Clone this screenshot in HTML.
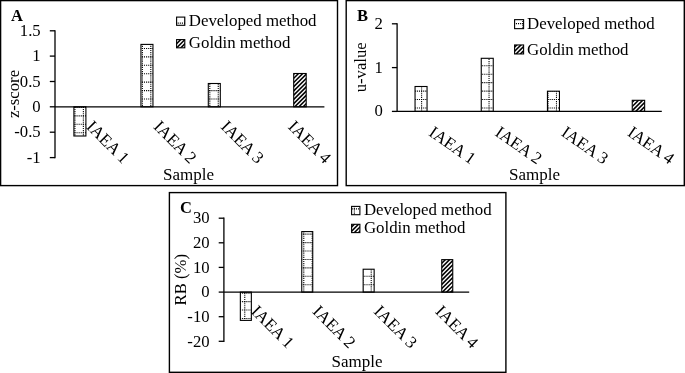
<!DOCTYPE html>
<html><head><meta charset="utf-8"><title>Figure</title>
<style>
html,body{margin:0;padding:0;background:#fff;}
body{width:685px;height:373px;overflow:hidden;font-family:"Liberation Serif",serif;}
svg{display:block;will-change:transform;}
text{fill:#000;}
</style></head><body>
<svg width="685" height="373" viewBox="0 0 685 373">
<rect width="685" height="373" fill="#fff"/>

<g id="panelA">
<rect x="0.6" y="0.6" width="336.9" height="185.0" fill="#fff" stroke="#000" stroke-width="1.4"/>
<clipPath id="c1"><rect x="73.9" y="106.8" width="12.0" height="29.2"/></clipPath><rect x="73.9" y="106.8" width="12.0" height="29.2" fill="#fff"/><g clip-path="url(#c1)" stroke="#000" stroke-width="1.1" stroke-dasharray="1.1 1.007" fill="none"><path d="M66.51 98.48V137.0"/><path d="M74.94 98.48V137.0"/><path d="M83.37 98.48V137.0"/><path d="M65.96 99.03H86.9"/><path d="M65.96 107.46H86.9"/><path d="M65.96 115.89H86.9"/><path d="M65.96 124.32H86.9"/><path d="M65.96 132.75H86.9"/></g><rect x="73.9" y="106.8" width="12.0" height="29.2" fill="none" stroke="#000" stroke-width="1.1"/>
<clipPath id="c2"><rect x="140.95" y="44.4" width="12.0" height="62.4"/></clipPath><rect x="140.95" y="44.4" width="12.0" height="62.4" fill="#fff"/><g clip-path="url(#c2)" stroke="#000" stroke-width="1.1" stroke-dasharray="1.1 1.007" fill="none"><path d="M133.95 39.47V107.8"/><path d="M142.38 39.47V107.8"/><path d="M150.81 39.47V107.8"/><path d="M133.4 40.02H153.95"/><path d="M133.4 48.45H153.95"/><path d="M133.4 56.88H153.95"/><path d="M133.4 65.31H153.95"/><path d="M133.4 73.74H153.95"/><path d="M133.4 82.17H153.95"/><path d="M133.4 90.6H153.95"/><path d="M133.4 99.03H153.95"/><path d="M133.4 107.46H153.95"/></g><rect x="140.95" y="44.4" width="12.0" height="62.4" fill="none" stroke="#000" stroke-width="1.1"/>
<clipPath id="c3"><rect x="208.3" y="83.5" width="12.0" height="23.3"/></clipPath><rect x="208.3" y="83.5" width="12.0" height="23.3" fill="#fff"/><g clip-path="url(#c3)" stroke="#000" stroke-width="1.1" stroke-dasharray="1.1 1.007" fill="none"><path d="M201.39 81.62V107.8"/><path d="M209.82 81.62V107.8"/><path d="M218.25 81.62V107.8"/><path d="M200.84 82.17H221.3"/><path d="M200.84 90.6H221.3"/><path d="M200.84 99.03H221.3"/><path d="M200.84 107.46H221.3"/></g><rect x="208.3" y="83.5" width="12.0" height="23.3" fill="none" stroke="#000" stroke-width="1.1"/>
<clipPath id="c4"><rect x="293.7" y="73.5" width="12.5" height="33.3"/></clipPath><rect x="293.7" y="73.5" width="12.5" height="33.3" fill="#fff"/><g clip-path="url(#c4)" stroke="#000" stroke-width="1.55" fill="none"><path d="M292.7 70.89L307.2 56.39"/><path d="M292.7 75.11L307.2 60.61"/><path d="M292.7 79.32L307.2 64.82"/><path d="M292.7 83.54L307.2 69.04"/><path d="M292.7 87.75L307.2 73.25"/><path d="M292.7 91.97L307.2 77.47"/><path d="M292.7 96.18L307.2 81.68"/><path d="M292.7 100.4L307.2 85.9"/><path d="M292.7 104.61L307.2 90.11"/><path d="M292.7 108.83L307.2 94.33"/><path d="M292.7 113.04L307.2 98.54"/><path d="M292.7 117.25L307.2 102.75"/></g><rect x="293.7" y="73.5" width="12.5" height="33.3" fill="none" stroke="#000" stroke-width="1.1"/>
<path d="M55 30.15V158.25" stroke="#000" stroke-width="1.3" fill="none"/>
<path d="M55 106.8H324.4" stroke="#000" stroke-width="1.3" fill="none"/>
<path d="M49.8 30.8H55" stroke="#000" stroke-width="1.3"/>
<text x="40.7" y="36.0" text-anchor="end" font-family="Liberation Serif, serif" font-size="16.7">1.5</text>
<path d="M49.8 56.1H55" stroke="#000" stroke-width="1.3"/>
<text x="40.7" y="61.3" text-anchor="end" font-family="Liberation Serif, serif" font-size="16.7">1</text>
<path d="M49.8 81.5H55" stroke="#000" stroke-width="1.3"/>
<text x="40.7" y="86.7" text-anchor="end" font-family="Liberation Serif, serif" font-size="16.7">0.5</text>
<path d="M49.8 106.8H55" stroke="#000" stroke-width="1.3"/>
<text x="40.7" y="112.0" text-anchor="end" font-family="Liberation Serif, serif" font-size="16.7">0</text>
<path d="M49.8 132.2H55" stroke="#000" stroke-width="1.3"/>
<text x="40.7" y="137.4" text-anchor="end" font-family="Liberation Serif, serif" font-size="16.7">-0.5</text>
<path d="M49.8 157.6H55" stroke="#000" stroke-width="1.3"/>
<text x="40.7" y="162.8" text-anchor="end" font-family="Liberation Serif, serif" font-size="16.7">-1</text>
<text transform="translate(85.4 127.5) rotate(45)" font-family="Liberation Serif, serif" font-size="17">IAEA 1</text>
<text transform="translate(152.7 127.5) rotate(45)" font-family="Liberation Serif, serif" font-size="17">IAEA 2</text>
<text transform="translate(220.0 127.5) rotate(45)" font-family="Liberation Serif, serif" font-size="17">IAEA 3</text>
<text transform="translate(287.3 127.5) rotate(45)" font-family="Liberation Serif, serif" font-size="17">IAEA 4</text>
<text x="188.6" y="179.6" text-anchor="middle" font-family="Liberation Serif, serif" font-size="17">Sample</text>
<text transform="translate(18.5 94) rotate(-90)" text-anchor="middle" font-family="Liberation Serif, serif" font-size="16.7">z-score</text>
<text x="11" y="21.4" font-family="Liberation Serif, serif" font-weight="bold" font-size="16.5">A</text>
<clipPath id="c5"><rect x="176.6" y="17.1" width="8.2" height="8.2"/></clipPath><rect x="176.6" y="17.1" width="8.2" height="8.2" fill="#fff"/><g clip-path="url(#c5)" stroke="#000" stroke-width="1.1" stroke-dasharray="1.1 1.007" fill="none"><path d="M176.1 14.18V26.3"/><path d="M184.53 14.18V26.3"/><path d="M175.55 14.73H185.8"/><path d="M175.55 23.16H185.8"/></g><rect x="176.6" y="17.1" width="8.2" height="8.2" fill="none" stroke="#000" stroke-width="1.1"/>
<text x="188.8" y="25.5" font-family="Liberation Serif, serif" font-size="16.85">Developed method</text>
<clipPath id="c6"><rect x="176.6" y="39.6" width="8.2" height="8.2"/></clipPath><rect x="176.6" y="39.6" width="8.2" height="8.2" fill="#fff"/><g clip-path="url(#c6)" stroke="#000" stroke-width="1.55" fill="none"><path d="M175.6 40.47L185.8 30.27"/><path d="M175.6 44.68L185.8 34.48"/><path d="M175.6 48.89L185.8 38.69"/><path d="M175.6 53.11L185.8 42.91"/><path d="M175.6 57.32L185.8 47.12"/></g><rect x="176.6" y="39.6" width="8.2" height="8.2" fill="none" stroke="#000" stroke-width="1.1"/>
<text x="188.8" y="48" font-family="Liberation Serif, serif" font-size="16.85">Goldin method</text>
</g>
<g id="panelB">
<rect x="346.2" y="0.6" width="338.1" height="185.0" fill="#fff" stroke="#000" stroke-width="1.4"/>
<clipPath id="c7"><rect x="415.05" y="86.5" width="12.0" height="24.9"/></clipPath><rect x="415.05" y="86.5" width="12.0" height="24.9" fill="#fff"/><g clip-path="url(#c7)" stroke="#000" stroke-width="1.1" stroke-dasharray="1.1 1.007" fill="none"><path d="M413.17 82.12V112.4"/><path d="M421.6 82.12V112.4"/><path d="M412.62 82.67H428.05"/><path d="M412.62 91.1H428.05"/><path d="M412.62 99.53H428.05"/><path d="M412.62 107.96H428.05"/></g><rect x="415.05" y="86.5" width="12.0" height="24.9" fill="none" stroke="#000" stroke-width="1.1"/>
<clipPath id="c8"><rect x="481.25" y="58.3" width="12.0" height="53.1"/></clipPath><rect x="481.25" y="58.3" width="12.0" height="53.1" fill="#fff"/><g clip-path="url(#c8)" stroke="#000" stroke-width="1.1" stroke-dasharray="1.1 1.007" fill="none"><path d="M480.61 56.83V112.4"/><path d="M489.04 56.83V112.4"/><path d="M480.06 57.38H494.25"/><path d="M480.06 65.81H494.25"/><path d="M480.06 74.24H494.25"/><path d="M480.06 82.67H494.25"/><path d="M480.06 91.1H494.25"/><path d="M480.06 99.53H494.25"/><path d="M480.06 107.96H494.25"/></g><rect x="481.25" y="58.3" width="12.0" height="53.1" fill="none" stroke="#000" stroke-width="1.1"/>
<clipPath id="c9"><rect x="547.45" y="91.2" width="12.0" height="20.2"/></clipPath><rect x="547.45" y="91.2" width="12.0" height="20.2" fill="#fff"/><g clip-path="url(#c9)" stroke="#000" stroke-width="1.1" stroke-dasharray="1.1 1.007" fill="none"><path d="M539.62 90.55V112.4"/><path d="M548.05 90.55V112.4"/><path d="M556.48 90.55V112.4"/><path d="M539.07 91.1H560.45"/><path d="M539.07 99.53H560.45"/><path d="M539.07 107.96H560.45"/></g><rect x="547.45" y="91.2" width="12.0" height="20.2" fill="none" stroke="#000" stroke-width="1.1"/>
<clipPath id="c10"><rect x="632.25" y="100.3" width="12.4" height="11.1"/></clipPath><rect x="632.25" y="100.3" width="12.4" height="11.1" fill="#fff"/><g clip-path="url(#c10)" stroke="#000" stroke-width="1.55" fill="none"><path d="M631.25 99.04L645.65 84.64"/><path d="M631.25 103.26L645.65 88.86"/><path d="M631.25 107.48L645.65 93.08"/><path d="M631.25 111.69L645.65 97.29"/><path d="M631.25 115.9L645.65 101.5"/><path d="M631.25 120.12L645.65 105.72"/><path d="M631.25 124.34L645.65 109.94"/></g><rect x="632.25" y="100.3" width="12.4" height="11.1" fill="none" stroke="#000" stroke-width="1.1"/>
<path d="M397.1 23.15V112.05" stroke="#000" stroke-width="1.3" fill="none"/>
<path d="M397.1 111.4H661.8" stroke="#000" stroke-width="1.3" fill="none"/>
<path d="M391.90000000000003 23.8H397.1" stroke="#000" stroke-width="1.3"/>
<text x="382.8" y="28.7" text-anchor="end" font-family="Liberation Serif, serif" font-size="16.7">2</text>
<path d="M391.90000000000003 67.6H397.1" stroke="#000" stroke-width="1.3"/>
<text x="382.8" y="72.5" text-anchor="end" font-family="Liberation Serif, serif" font-size="16.7">1</text>
<path d="M391.90000000000003 111.4H397.1" stroke="#000" stroke-width="1.3"/>
<text x="382.8" y="116.3" text-anchor="end" font-family="Liberation Serif, serif" font-size="16.7">0</text>
<text transform="translate(427.8 134.8) rotate(35)" font-family="Liberation Serif, serif" font-size="17">IAEA 1</text>
<text transform="translate(494.0 134.8) rotate(35)" font-family="Liberation Serif, serif" font-size="17">IAEA 2</text>
<text transform="translate(560.2 134.8) rotate(35)" font-family="Liberation Serif, serif" font-size="17">IAEA 3</text>
<text transform="translate(626.4 134.8) rotate(35)" font-family="Liberation Serif, serif" font-size="17">IAEA 4</text>
<text x="534.6" y="180" text-anchor="middle" font-family="Liberation Serif, serif" font-size="17">Sample</text>
<text transform="translate(366.3 67.3) rotate(-90)" text-anchor="middle" font-family="Liberation Serif, serif" font-size="16.7">u-value</text>
<text x="357" y="21.1" font-family="Liberation Serif, serif" font-weight="bold" font-size="16.5">B</text>
<clipPath id="c11"><rect x="514.6" y="19.65" width="9.0" height="9.0"/></clipPath><rect x="514.6" y="19.65" width="9.0" height="9.0" fill="#fff"/><g clip-path="url(#c11)" stroke="#000" stroke-width="1.1" stroke-dasharray="1.1 1.007" fill="none"><path d="M514.33 14.68V29.65"/><path d="M522.76 14.68V29.65"/><path d="M513.78 15.23H524.6"/><path d="M513.78 23.66H524.6"/></g><rect x="514.6" y="19.65" width="9.0" height="9.0" fill="none" stroke="#000" stroke-width="1.1"/>
<text x="527.0" y="29.3" font-family="Liberation Serif, serif" font-size="16.85">Developed method</text>
<clipPath id="c12"><rect x="514.6" y="44.95" width="9.0" height="9.0"/></clipPath><rect x="514.6" y="44.95" width="9.0" height="9.0" fill="#fff"/><g clip-path="url(#c12)" stroke="#000" stroke-width="1.55" fill="none"><path d="M513.6 43.88L524.6 32.88"/><path d="M513.6 48.1L524.6 37.1"/><path d="M513.6 52.31L524.6 41.31"/><path d="M513.6 56.52L524.6 45.52"/><path d="M513.6 60.74L524.6 49.74"/></g><rect x="514.6" y="44.95" width="9.0" height="9.0" fill="none" stroke="#000" stroke-width="1.1"/>
<text x="527.0" y="54.6" font-family="Liberation Serif, serif" font-size="16.85">Goldin method</text>
</g>
<g id="panelC">
<rect x="169.4" y="192.6" width="336.5" height="179.7" fill="#fff" stroke="#000" stroke-width="1.4"/>
<clipPath id="c13"><rect x="240.35" y="292.1" width="11.0" height="28.29"/></clipPath><rect x="240.35" y="292.1" width="11.0" height="28.29" fill="#fff"/><g clip-path="url(#c13)" stroke="#000" stroke-width="1.1" stroke-dasharray="1.1 1.007" fill="none"><path d="M236.34 284.19V321.39"/><path d="M244.77 284.19V321.39"/><path d="M235.79 284.74H252.35"/><path d="M235.79 293.17H252.35"/><path d="M235.79 301.6H252.35"/><path d="M235.79 310.03H252.35"/><path d="M235.79 318.46H252.35"/></g><rect x="240.35" y="292.1" width="11.0" height="28.29" fill="none" stroke="#000" stroke-width="1.1"/>
<clipPath id="c14"><rect x="301.75" y="231.58" width="11.0" height="60.52"/></clipPath><rect x="301.75" y="231.58" width="11.0" height="60.52" fill="#fff"/><g clip-path="url(#c14)" stroke="#000" stroke-width="1.1" stroke-dasharray="1.1 1.007" fill="none"><path d="M295.35 225.18V293.1"/><path d="M303.78 225.18V293.1"/><path d="M312.21 225.18V293.1"/><path d="M294.8 225.73H313.75"/><path d="M294.8 234.16H313.75"/><path d="M294.8 242.59H313.75"/><path d="M294.8 251.02H313.75"/><path d="M294.8 259.45H313.75"/><path d="M294.8 267.88H313.75"/><path d="M294.8 276.31H313.75"/><path d="M294.8 284.74H313.75"/></g><rect x="301.75" y="231.58" width="11.0" height="60.52" fill="none" stroke="#000" stroke-width="1.1"/>
<clipPath id="c15"><rect x="363.15" y="269.22" width="11.0" height="22.88"/></clipPath><rect x="363.15" y="269.22" width="11.0" height="22.88" fill="#fff"/><g clip-path="url(#c15)" stroke="#000" stroke-width="1.1" stroke-dasharray="1.1 1.007" fill="none"><path d="M362.79 267.33V293.1"/><path d="M371.22 267.33V293.1"/><path d="M362.24 267.88H375.15"/><path d="M362.24 276.31H375.15"/><path d="M362.24 284.74H375.15"/></g><rect x="363.15" y="269.22" width="11.0" height="22.88" fill="none" stroke="#000" stroke-width="1.1"/>
<clipPath id="c16"><rect x="441.75" y="259.63" width="11.0" height="32.47"/></clipPath><rect x="441.75" y="259.63" width="11.0" height="32.47" fill="#fff"/><g clip-path="url(#c16)" stroke="#000" stroke-width="1.55" fill="none"><path d="M440.75 260.04L453.75 247.04"/><path d="M440.75 264.25L453.75 251.25"/><path d="M440.75 268.47L453.75 255.47"/><path d="M440.75 272.68L453.75 259.68"/><path d="M440.75 276.9L453.75 263.9"/><path d="M440.75 281.12L453.75 268.12"/><path d="M440.75 285.33L453.75 272.33"/><path d="M440.75 289.54L453.75 276.54"/><path d="M440.75 293.76L453.75 280.76"/><path d="M440.75 297.98L453.75 284.98"/><path d="M440.75 302.19L453.75 289.19"/></g><rect x="441.75" y="259.63" width="11.0" height="32.47" fill="none" stroke="#000" stroke-width="1.1"/>
<path d="M223.9 217.55V341.95" stroke="#000" stroke-width="1.3" fill="none"/>
<path d="M223.9 292.1H469.2" stroke="#000" stroke-width="1.3" fill="none"/>
<path d="M218.70000000000002 218.2H223.9" stroke="#000" stroke-width="1.3"/>
<text x="209.6" y="223.4" text-anchor="end" font-family="Liberation Serif, serif" font-size="16.7">30</text>
<path d="M218.70000000000002 242.8H223.9" stroke="#000" stroke-width="1.3"/>
<text x="209.6" y="248.0" text-anchor="end" font-family="Liberation Serif, serif" font-size="16.7">20</text>
<path d="M218.70000000000002 267.4H223.9" stroke="#000" stroke-width="1.3"/>
<text x="209.6" y="272.6" text-anchor="end" font-family="Liberation Serif, serif" font-size="16.7">10</text>
<path d="M218.70000000000002 292.1H223.9" stroke="#000" stroke-width="1.3"/>
<text x="209.6" y="297.3" text-anchor="end" font-family="Liberation Serif, serif" font-size="16.7">0</text>
<path d="M218.70000000000002 316.7H223.9" stroke="#000" stroke-width="1.3"/>
<text x="209.6" y="321.9" text-anchor="end" font-family="Liberation Serif, serif" font-size="16.7">-10</text>
<path d="M218.70000000000002 341.3H223.9" stroke="#000" stroke-width="1.3"/>
<text x="209.6" y="346.5" text-anchor="end" font-family="Liberation Serif, serif" font-size="16.7">-20</text>
<text transform="translate(250.3 312.3) rotate(45)" font-family="Liberation Serif, serif" font-size="17">IAEA 1</text>
<text transform="translate(311.7 312.3) rotate(45)" font-family="Liberation Serif, serif" font-size="17">IAEA 2</text>
<text transform="translate(373.1 312.3) rotate(45)" font-family="Liberation Serif, serif" font-size="17">IAEA 3</text>
<text transform="translate(434.5 312.3) rotate(45)" font-family="Liberation Serif, serif" font-size="17">IAEA 4</text>
<text x="357.1" y="367" text-anchor="middle" font-family="Liberation Serif, serif" font-size="17">Sample</text>
<text transform="translate(185.9 279.7) rotate(-90)" text-anchor="middle" font-family="Liberation Serif, serif" font-size="16.7">RB (%)</text>
<text x="180" y="213" font-family="Liberation Serif, serif" font-weight="bold" font-size="16.5">C</text>
<clipPath id="c17"><rect x="351.6" y="206.4" width="8.3" height="8.3"/></clipPath><rect x="351.6" y="206.4" width="8.3" height="8.3" fill="#fff"/><g clip-path="url(#c17)" stroke="#000" stroke-width="1.1" stroke-dasharray="1.1 1.007" fill="none"><path d="M345.93 199.89V215.7"/><path d="M354.36 199.89V215.7"/><path d="M345.38 200.44H360.9"/><path d="M345.38 208.87H360.9"/></g><rect x="351.6" y="206.4" width="8.3" height="8.3" fill="none" stroke="#000" stroke-width="1.1"/>
<text x="363.9" y="214.8" font-family="Liberation Serif, serif" font-size="16.85">Developed method</text>
<clipPath id="c18"><rect x="351.6" y="224.3" width="8.3" height="8.3"/></clipPath><rect x="351.6" y="224.3" width="8.3" height="8.3" fill="#fff"/><g clip-path="url(#c18)" stroke="#000" stroke-width="1.55" fill="none"><path d="M350.6 223.74L360.9 213.44"/><path d="M350.6 227.95L360.9 217.65"/><path d="M350.6 232.17L360.9 221.87"/><path d="M350.6 236.38L360.9 226.08"/><path d="M350.6 240.6L360.9 230.3"/></g><rect x="351.6" y="224.3" width="8.3" height="8.3" fill="none" stroke="#000" stroke-width="1.1"/>
<text x="363.9" y="232.7" font-family="Liberation Serif, serif" font-size="16.85">Goldin method</text>
</g>
</svg>
</body></html>
